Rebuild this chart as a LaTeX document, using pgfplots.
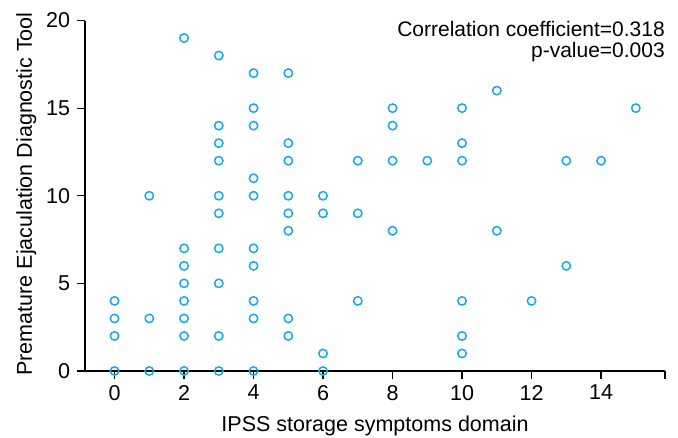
\documentclass[border=0pt]{standalone}
\usepackage{pgfplots}
\pgfplotsset{compat=1.18}
\usepackage{fontspec}
\setmainfont{Liberation Sans}
\definecolor{ptblue}{RGB}{20,170,235}

\begin{document}
\begin{tikzpicture}[font=\fontsize{21.5}{25}\selectfont]
\path[use as bounding box] (0,0) rectangle (678pt,437pt);
\begin{axis}[
  at={(85pt,66pt)}, anchor=south west,
  scale only axis, width=580pt, height=350.5pt,
  xmin=-0.85, xmax=15.84, ymin=0, ymax=20,
  axis lines*=left,
  axis line style={line width=1.2pt},
  tick align=outside, tick style={black, line width=1.2pt},
  major tick length=7.5pt,
  xtick={0,2,...,14}, ytick={0,5,...,20},
  extra x ticks={15.84}, extra x tick labels={},
  /pgf/number format/assume math mode=true,
  xticklabel style={yshift=-3pt},
  yticklabel style={xshift=-4pt},
  xlabel={IPSS storage symptoms domain},
  ylabel={Premature Ejaculation Diagnostic Tool},
  xlabel style={at={(axis description cs:0.5,-0.174)}, anchor=base},
  ylabel style={at={(axis description cs:-0.0914,0.505)}, anchor=base},
]
\addplot[only marks, mark=o, mark size=4.2pt, mark options={ptblue, line width=1.5pt}] table {
x y
0 0
0 2
0 3
0 4
1 0
1 3
1 10
2 0
2 2
2 3
2 4
2 5
2 6
2 7
2 19
3 0
3 2
3 5
3 7
3 9
3 10
3 12
3 13
3 14
3 18
4 0
4 3
4 4
4 6
4 7
4 10
4 11
4 14
4 15
4 17
5 2
5 3
5 8
5 9
5 10
5 12
5 13
5 17
6 0
6 1
6 9
6 10
7 4
7 9
7 12
8 8
8 12
8 14
8 15
9 12
10 1
10 2
10 4
10 12
10 13
10 15
11 8
11 16
12 4
13 6
13 12
14 12
15 15
};
\node[anchor=north east, inner sep=0pt, align=right, yshift=-1pt,
  font=\fontsize{21}{20.5}\selectfont] at (rel axis cs:1,1)
  {Correlation coefficient=0.318\\p-value=0.003};
\end{axis}
\end{tikzpicture}
\end{document}
